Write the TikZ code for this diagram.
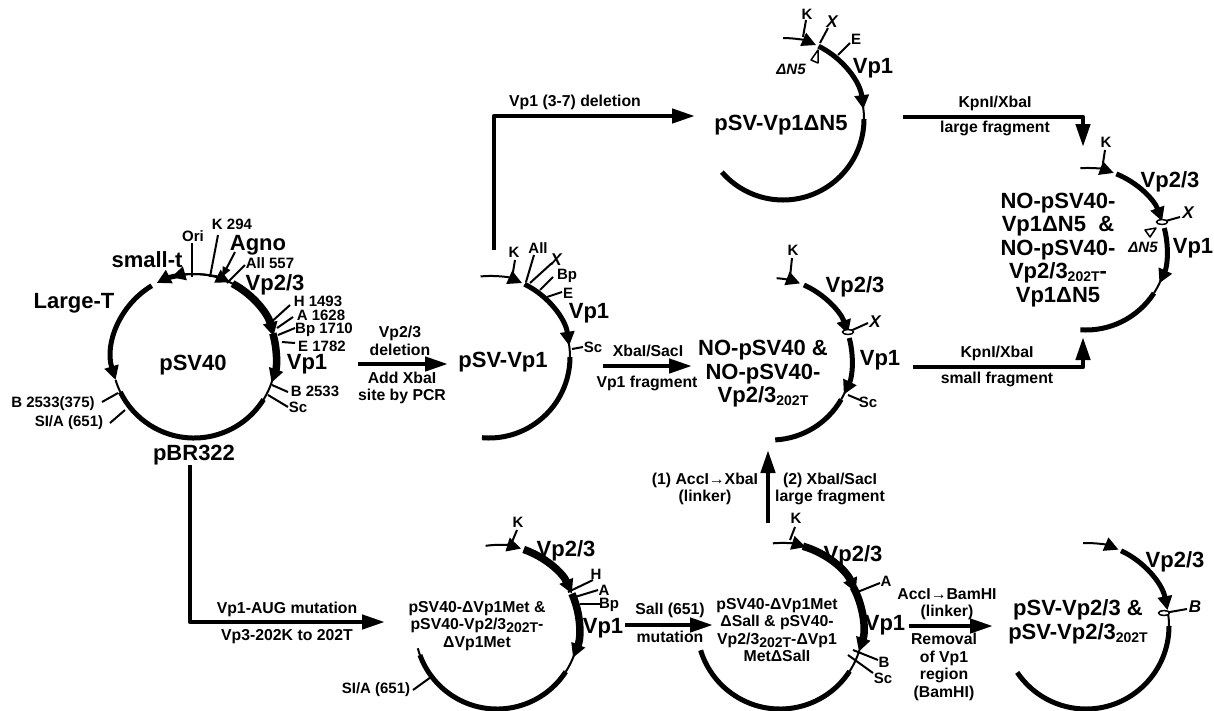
\documentclass[tikz,border=0pt]{standalone}
\usepackage{fontspec}
\setmainfont{Liberation Sans}
\usetikzlibrary{arrows.meta,shapes.geometric}
\newcommand{\parc}[5][ringthin]{\draw[#1] ([shift={(#4:#3)}]#2) arc[start angle=#4,end angle=#5,radius=#3];}
\newcommand{\lowtext}[1]{\raisebox{-3pt}{\fontsize{14}{14}\selectfont #1}}
\tikzset{
	ringthin/.style={line width=2pt},
	ringmed/.style={line width=5pt},
	ringfat/.style={line width=7.5pt},
	tipped/.style={-{Triangle[length=14pt,width=14pt]}},
	sitetick/.style={line width=2pt},
	flow/.style={line width=4.4pt,-{Triangle[length=23pt,width=14pt]}},
	biglabel/.style={font=\bfseries\fontsize{22}{23.5}\selectfont,align=center,inner sep=0pt},
	smalllabel/.style={font=\bfseries\fontsize{15.8}{17.5}\selectfont,align=center,inner sep=0pt},
	sitelabel/.style={font=\bfseries\fontsize{15}{15}\selectfont,inner sep=0pt},
	italiclabel/.style={font=\bfseries\itshape\fontsize{17}{17}\selectfont,inner sep=0pt},
	deltalabel/.style={font=\bfseries\itshape\fontsize{15}{15}\selectfont,inner sep=0pt},
	sitebox/.style={draw,fill=white,line width=1.5pt,ellipse,minimum width=11pt,minimum height=5pt,inner sep=0pt},
}
\begin{document}
\begin{tikzpicture}[x=1pt,y=1pt,line join=round]
	\useasboundingbox (0,-710) rectangle (1214,0);
	% pSV40
	\coordinate (main) at (194,-356);
	\parc{main}{82}{97}{60}
	\parc[ringthin]{main}{82}{-16}{-33}
	\parc[ringthin]{main}{82}{197}{206}
	\parc[ringmed,tipped]{main}{82}{121}{197}
	\parc[ringmed,tipped]{main}{82}{98}{117}
	\parc[ringthin,tipped]{main}{82}{90}{106}
	\parc[ringthin,tipped]{main}{82}{90}{64}
	\parc[ringfat,tipped]{main}{82}{62}{14}
	\parc[ringfat,tipped]{main}{82}{16}{-19}
	\parc[ringmed]{main}{82}{-32}{-154}
	\draw[sitetick,-{Triangle[length=10pt,width=8pt]}] (235,-252) -- (222,-277);
	\node[biglabel] (pmain) at (193,-365) {pSV40};
	\node[biglabel] (smallt) at (147,-260) {small-t};
	\node[biglabel] (larget) at (74,-303) {Large-T};
	\node[biglabel] (agno) at (258,-245) {Agno};
	\node[biglabel] (vp23a) at (275,-285) {Vp2/3};
	\node[biglabel] (vp1a) at (307,-364) {Vp1};
	\node[biglabel] (pbr) at (194,-455) {pBR322};
	% pSV-Vp1
	\coordinate (sva) at (489,-357);
	\parc[ringthin,tipped]{sva}{81}{96}{66}
	\parc[ringmed,tipped]{sva}{81}{64}{8}
	\parc{sva}{81}{12}{0}
	\parc[ringmed]{sva}{81}{0}{-95}
	\node[biglabel] (psva) at (503,-362) {pSV-Vp1};
	\node[biglabel] (vp1b) at (589,-313) {Vp1};
	% pSV-Vp1 dN5
	\coordinate (dna) at (783,-119);
	\parc[ringthin,tipped]{dna}{81}{90}{66}
	\parc[ringmed,tipped]{dna}{81}{64}{7}
	\parc{dna}{81}{11}{0}
	\parc[ringmed]{dna}{81}{0}{-139}
	\draw[line width=1.5pt] (818,-50) -- (811,-60) -- (818,-63) -- cycle;
	\node[biglabel] (pdna) at (781,-125) {pSV-Vp1ΔN5};
	\node[biglabel] (vp1c) at (873,-68) {Vp1};
	\node[deltalabel] (dn5a) at (791,-69) {ΔN5};
	% NO-pSV40 and NO-pSV40-Vp2/3
	\coordinate (nop) at (771,-359);
	\parc[ringthin,tipped]{nop}{81}{86}{69}
	\parc[ringmed,tipped]{nop}{81}{66}{18}
	\parc[ringmed,tipped]{nop}{81}{15}{-26}
	\parc{nop}{81}{-24}{-30}
	\parc[ringmed]{nop}{81}{-30}{-87}
	\coordinate (xnop) at (848,-332);
	\node[biglabel] (pnop) at (763,-374) {NO-pSV40 \&\\NO-pSV40-\\Vp2/3\lowtext{202T}};
	\node[biglabel] (vp23d) at (855,-287) {Vp2/3};
	\node[biglabel] (vp1d) at (880,-360) {Vp1};
	% NO-pSV40 dN5
	\coordinate (nod) at (1086,-249);
	\parc[ringthin,tipped]{nod}{81}{94}{70}
	\parc[ringmed,tipped]{nod}{81}{68}{20}
	\parc[ringmed,tipped]{nod}{81}{15}{-25}
	\parc{nod}{81}{-22}{-33}
	\parc[ringmed]{nod}{81}{-33}{-94}
	\coordinate (xnod) at (1162,-222);
	\draw[line width=1.5pt] (1145,-230) -- (1156,-228) -- (1150,-237) -- cycle;
	\node[biglabel] (pnod) at (1058,-250) {NO-pSV40-\\Vp1ΔN5 \ \&\\NO-pSV40-\\Vp2/3\lowtext{202T}-\\Vp1ΔN5};
	\node[biglabel] (vp23e) at (1170,-182) {Vp2/3};
	\node[biglabel] (vp1e) at (1193,-248) {Vp1};
	\node[deltalabel] (dn5b) at (1143,-247) {ΔN5};
	% pSV40-dVp1Met
	\coordinate (met) at (497,-627);
	\parc[ringthin,tipped]{met}{82}{98}{73}
	\parc[ringfat,tipped]{met}{82}{71}{24}
	\parc[ringfat,tipped]{met}{82}{24}{-22}
	\parc{met}{82}{-20}{-33}
	\parc[ringmed]{met}{82}{-33}{-160}
	\parc{met}{82}{-160}{-165}
	\node[smalllabel] (pmet) at (477,-626) {pSV40-ΔVp1Met \&\\pSV40-Vp2/3\lowtext{202T}-\\ΔVp1Met};
	\node[biglabel] (vp23f) at (566,-551) {Vp2/3};
	\node[biglabel] (vp1f) at (603,-628) {Vp1};
	% pSV40-dVp1Met dSalI
	\coordinate (sal) at (780,-626);
	\parc[ringthin,tipped]{sal}{83}{95}{72}
	\parc[ringfat,tipped]{sal}{83}{74}{24}
	\parc[ringfat,tipped]{sal}{83}{28}{-18}
	\parc{sal}{83}{-17}{-34}
	\parc[ringmed]{sal}{83}{-33}{-163}
	\node[smalllabel] (psal) at (777,-630) {pSV40-ΔVp1Met\\ΔSalI \& pSV40-\\Vp2/3\lowtext{202T}-ΔVp1\\MetΔSalI};
	\node[biglabel] (vp23g) at (853,-556) {Vp2/3};
	\node[biglabel] (vp1g) at (885,-625) {Vp1};
	% pSV-Vp2/3
	\coordinate (vpt) at (1086,-626);
	\parc[ringthin,tipped]{vpt}{83}{92}{67}
	\parc[ringmed,tipped]{vpt}{83}{65}{11}
	\parc{vpt}{83}{9}{0}
	\parc[ringmed]{vpt}{83}{0}{-146}
	\coordinate (bvpt) at (1164,-613);
	\node[biglabel] (pvpt) at (1078,-622) {pSV-Vp2/3 \&\\pSV-Vp2/3\lowtext{202T}};
	\node[biglabel] (vp23h) at (1175,-562) {Vp2/3};
	% restriction sites
	\foreach \nm/\txt/\lx/\ly/\ax/\ay/\bx/\by in {
		ori/Ori/193/236/192/277/192/243, k1/K 294/232/224/210/277/218/235, all1/All 557/270/263/227/283/245/265,
		h1/H 1493/318/301/268/325/290/305, a1/A 1628/321/315/277/328/293/317, bp1/Bp 1710/324/330/278/335/295/328,
		e1/E 1782/322/346/282/342/295/343, b1/B 2533/315/391/272/385/288/392, sc1/Sc/298/407/268/395/288/407,
		b1l/B 2533(375)/53/404/118/393/102/402, s1/{SI/A (651)}/69/423/125/410/110/423,
		k2/K/514/252/512/278/515/260, all2/All/538/248/526/282/534/255, bp2/Bp/567/276/540/290/553/277,
		e2/E/568/293/547/297/562/292, sc2/Sc/593/347/572/349/583/347,
		k3/K/807/14/803/37/806/20, e3/E/856/39/838/55/850/43,
		k4/K/793/250/790/277/792/258, sc4/Sc/868/402/848/395/860/400,
		k5/K/1106/142/1103/163/1105/150,
		k6/K/518/522/512/542/517/530, h6/H/596/574/568/592/593/580, a6/A/604/590/575/597/598/590,
		bp6/Bp/609/605/580/604/600/604, s6/{SI/A (651)}/376/690/431/677/413/690,
		k7/K/796/518/790/540/795/527, a7/A/886/581/855/593/880/583, b7/B/884/662/853/650/878/660, sc7/Sc/883/678/848/655/873/673}
	{
		\coordinate (\nm a) at (\ax,-\ay);
		\coordinate (\nm b) at (\bx,-\by);
		\node[sitelabel] (\nm) at (\lx,-\ly) {\txt};
		\draw[sitetick] (\nm a) -- (\nm b);
	}
	\foreach \nm/\txt/\lx/\ly/\ax/\ay/\bx/\by in {
		x2/X/556/260/530/283/552/263, x3/X/832/22/820/43/828/28, x4/X/875/322/848/332/868/323,
		x5/X/1188/213/1162/222/1180/217, b8/B/1195/607/1164/613/1187/609}
	{
		\coordinate (\nm a) at (\ax,-\ay);
		\coordinate (\nm b) at (\bx,-\by);
		\node[italiclabel] (\nm) at (\lx,-\ly) {\txt};
		\draw[sitetick] (\nm a) -- (\nm b);
	}
	\node[sitebox] (xnopbox) at (xnop) {};
	\node[sitebox] (xnodbox) at (xnod) {};
	\node[sitebox] (bvptbox) at (bvpt) {};
	% connectors between the plasmids
	\coordinate (f1a) at (358,-364); \coordinate (f1b) at (448,-364);
	\draw[flow] (f1a) -- (f1b);
	\node[smalllabel] (t1a) at (400,-341) {Vp2/3\\deletion};
	\node[smalllabel] (t1b) at (402,-388) {Add XbaI\\site by PCR};
	\coordinate (f2a) at (494,-250); \coordinate (f2m) at (494,-116); \coordinate (f2b) at (695,-116);
	\draw[flow] (f2a) -- (f2m) -- (f2b);
	\node[smalllabel] (t2) at (575,-102) {Vp1 (3-7) deletion};
	\coordinate (f3a) at (603,-366); \coordinate (f3b) at (692,-366);
	\draw[flow] (f3a) -- (f3b);
	\node[smalllabel] (t3a) at (648,-351) {XbaI/SacI};
	\node[smalllabel] (t3b) at (647,-383) {Vp1 fragment};
	\coordinate (f4a) at (903,-117); \coordinate (f4m) at (1083,-117); \coordinate (f4b) at (1083,-147);
	\draw[flow] (f4a) -- (f4m) -- (f4b);
	\node[smalllabel] (t4a) at (995,-103) {KpnI/XbaI};
	\node[smalllabel] (t4b) at (995,-128) {large fragment};
	\coordinate (f5a) at (913,-367); \coordinate (f5m) at (1083,-367); \coordinate (f5b) at (1083,-337);
	\draw[flow] (f5a) -- (f5m) -- (f5b);
	\node[smalllabel] (t5a) at (997,-353) {KpnI/XbaI};
	\node[smalllabel] (t5b) at (997,-379) {small fragment};
	\coordinate (f6a) at (768,-523); \coordinate (f6b) at (768,-450);
	\draw[flow] (f6a) -- (f6b);
	\node[smalllabel] (t6a) at (705,-489) {(1) AccI→XbaI\\(linker)};
	\node[smalllabel] (t6b) at (830,-489) {(2) XbaI/SacI\\large fragment};
	\coordinate (f7a) at (190,-465); \coordinate (f7m) at (190,-622); \coordinate (f7b) at (385,-622);
	\draw[flow] (f7a) -- (f7m) -- (f7b);
	\node[smalllabel] (t7a) at (287,-609) {Vp1-AUG mutation};
	\node[smalllabel] (t7b) at (287,-637) {Vp3-202K to 202T};
	\coordinate (f8a) at (625,-625); \coordinate (f8b) at (713,-625);
	\draw[flow] (f8a) -- (f8b);
	\node[smalllabel] (t8a) at (670,-610) {SalI (651)};
	\node[smalllabel] (t8b) at (670,-637) {mutation};
	\coordinate (f9a) at (909,-626); \coordinate (f9b) at (993,-626);
	\draw[flow] (f9a) -- (f9b);
	\node[smalllabel] (t9a) at (947,-604) {AccI→BamHI\\(linker)};
	\node[smalllabel] (t9b) at (944,-667) {Removal\\of Vp1\\region\\(BamHI)};
\end{tikzpicture}
\end{document}
